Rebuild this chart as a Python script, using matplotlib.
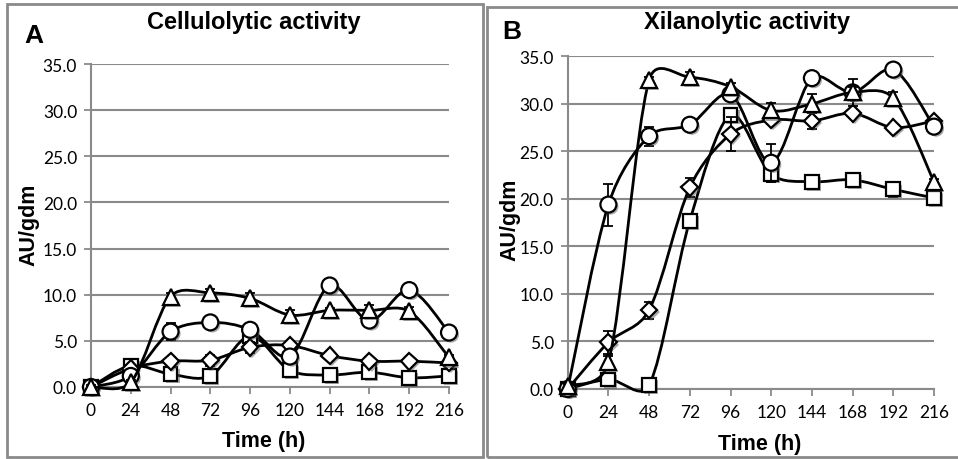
import numpy as np
import matplotlib
matplotlib.use("Agg")
import matplotlib.pyplot as plt
from matplotlib.path import Path
from matplotlib.patches import PathPatch, Rectangle
import matplotlib.patheffects as pe

# ---------------- data ----------------
time_h = [0, 24, 48, 72, 96, 120, 144, 168, 192, 216]
y_ticks = [0, 5, 10, 15, 20, 25, 30, 35]

# Panel A: cellulolytic activity (AU/gdm)
cel_triangle = [0.0, 0.5, 9.8, 10.2, 9.6, 7.8, 8.3, 8.3, 8.2, 3.2]
cel_triangle_err = [0.2, 0.3, 0.4, 0.4, 0.6, 0.5, 0.3, 0.6, 0.5, 0.3]
cel_circle = [0.0, 1.2, 6.0, 7.0, 6.2, 3.3, 11.0, 7.2, 10.5, 5.9]
cel_circle_err = [0.2, 0.3, 0.9, 0.6, 0.5, 0.4, 0.3, 0.4, 0.6, 0.6]
cel_diamond = [0.0, 2.0, 2.8, 2.9, 4.3, 4.5, 3.4, 2.8, 2.8, 2.6]
cel_diamond_err = [0.2, 0.3, 0.4, 0.6, 0.6, 0.5, 0.2, 0.3, 0.3, 0.3]
cel_square = [0.0, 2.3, 1.4, 1.2, 5.5, 1.8, 1.3, 1.6, 1.0, 1.2]
cel_square_err = [0.2, 0.4, 0.4, 0.5, 0.5, 0.4, 0.2, 0.4, 0.4, 0.3]

# Panel B: xylanolytic activity (AU/gdm)
xil_triangle = [0.3, 2.8, 32.5, 32.8, 31.8, 29.3, 30.0, 31.2, 30.6, 21.8]
xil_triangle_err = [0.2, 0.7, 0.3, 0.6, 0.4, 0.8, 1.0, 0.6, 0.6, 0.3]
xil_circle = [0.0, 19.4, 26.6, 27.8, 31.0, 23.8, 32.7, 31.2, 33.6, 27.6]
xil_circle_err = [0.2, 2.2, 1.0, 0.3, 0.5, 2.0, 0.2, 1.4, 0.3, 0.3]
xil_diamond = [0.0, 4.9, 8.3, 21.2, 26.8, 28.3, 28.2, 29.0, 27.5, 28.2]
xil_diamond_err = [0.2, 1.2, 0.9, 1.0, 1.8, 0.4, 0.8, 0.4, 0.3, 0.3]
xil_square = [0.0, 1.0, 0.4, 17.7, 28.8, 22.6, 21.8, 22.0, 21.0, 20.1]
xil_square_err = [0.2, 0.3, 0.2, 0.3, 0.5, 0.8, 0.3, 0.2, 0.8, 0.3]

# ---------------- style ----------------
W, H = 958, 460
fig = plt.figure(figsize=(W / 100, H / 100), dpi=100)
GRID = "#8a8a8a"
TICKFONT = "Lato"
BOLDFONT = "Liberation Sans"


def smooth_path(ax, x, y):
    """Excel-like smoothed line: cubic Bezier through the points, tangent
    lengths scaled by neighbouring segment lengths measured on screen."""
    pts = np.column_stack([np.asarray(x, float), np.asarray(y, float)])
    disp = ax.transData.transform(pts)
    n = len(pts)
    f = 1.0 / 6.0
    seg = np.hypot(*np.diff(disp, axis=0).T)
    verts = [tuple(disp[0])]
    codes = [Path.MOVETO]

    def tangent(i):
        a = disp[max(i - 1, 0)]
        b = disp[min(i + 1, n - 1)]
        return b - a

    def scale(i, side):
        dl = seg[i - 1] if i > 0 else seg[i]
        dr = seg[i] if i < n - 1 else seg[i - 1]
        d = dr if side == "r" else dl
        return min(1.0, np.sqrt(2 * d / (dl + dr)))

    for i in range(n - 1):
        c1 = disp[i] + tangent(i) * f * scale(i, "r")
        c2 = disp[i + 1] - tangent(i + 1) * f * scale(i + 1, "l")
        verts += [tuple(c1), tuple(c2), tuple(disp[i + 1])]
        codes += [Path.CURVE4] * 3
    data_verts = ax.transData.inverted().transform(np.array(verts))
    return Path(data_verts, codes)


def make_panel(rect, series, letter, title, letter_xy, title_xy, ylab_xy, xlab_xy):
    ax = fig.add_axes(rect)
    ax.set_xlim(time_h[0], time_h[-1])
    ax.set_ylim(0, 35)
    ax.set_xticks(time_h)
    ax.set_xticklabels([str(t) for t in time_h])
    ax.set_yticks(y_ticks)
    ax.set_yticklabels([f"{v:.1f}" for v in y_ticks])
    ax.yaxis.grid(True, color=GRID, lw=1.5, zorder=0)
    ax.set_axisbelow(True)
    for s in ["top", "right"]:
        ax.spines[s].set_visible(False)
    for s in ["left", "bottom"]:
        ax.spines[s].set_color(GRID)
        ax.spines[s].set_linewidth(1.5)
    ax.tick_params(axis="both", direction="out", length=5, width=1.3, color=GRID,
                   labelsize=12.5, labelcolor="#000000")
    ax.tick_params(axis="x", pad=6)
    ax.tick_params(axis="y", pad=5)
    for lab in ax.get_xticklabels() + ax.get_yticklabels():
        lab.set_fontfamily(TICKFONT)
    shadow = [pe.SimplePatchShadow(offset=(1.5, -1.5), shadow_rgbFace="#555555", alpha=0.5), pe.Normal()]
    z = 3
    for vals, errs, mk, ms in series:
        patch = PathPatch(smooth_path(ax, time_h, vals), facecolor="none", edgecolor="black",
                          lw=2.0, zorder=z, clip_on=False)
        ax.add_patch(patch)
        ax.errorbar(time_h, vals, yerr=errs, fmt="none", ecolor="black", elinewidth=1.3,
                    capsize=3.5, capthick=1.3, zorder=z + 0.5, clip_on=False)
        ax.plot(time_h, vals, linestyle="none", marker=mk, markersize=ms,
                markerfacecolor="white", markeredgecolor="black", markeredgewidth=1.6,
                zorder=z + 1, clip_on=False, path_effects=shadow)
        z += 2
    fig.text(letter_xy[0] / W, 1 - letter_xy[1] / H, letter, fontsize=19, fontweight="bold",
             family=BOLDFONT, ha="center", va="center")
    fig.text(title_xy[0] / W, 1 - title_xy[1] / H, title, fontsize=17, fontweight="bold",
             family=BOLDFONT, ha="center", va="center")
    fig.text(ylab_xy[0] / W, 1 - ylab_xy[1] / H, "AU/gdm", fontsize=15.5, fontweight="bold",
             family=BOLDFONT, ha="center", va="center", rotation=90)
    fig.text(xlab_xy[0] / W, 1 - xlab_xy[1] / H, "Time (h)", fontsize=15.5, fontweight="bold",
             family=BOLDFONT, ha="center", va="center")
    return ax


# panel frames
fig.patches.append(Rectangle((7 / W, 1 - 458 / H), (483 - 7) / W, (458 - 5) / H,
                             transform=fig.transFigure, fill=False, edgecolor="#8a8a8a", lw=2))
fig.patches.append(Rectangle((487 / W, 1 - 458 / H), (970 - 487) / W, (458 - 8) / H,
                             transform=fig.transFigure, fill=False, edgecolor="#8a8a8a", lw=2))

series_A = [
    (cel_square, cel_square_err, "s", 10),
    (cel_diamond, cel_diamond_err, "D", 8.5),
    (cel_circle, cel_circle_err, "o", 11.5),
    (cel_triangle, cel_triangle_err, "^", 11.5),
]
series_B = [
    (xil_square, xil_square_err, "s", 10),
    (xil_diamond, xil_diamond_err, "D", 8.5),
    (xil_circle, xil_circle_err, "o", 11.5),
    (xil_triangle, xil_triangle_err, "^", 11.5),
]

make_panel([91 / W, 1 - 388 / H, (449 - 91) / W, (388 - 65) / H], series_A, "A",
           "Cellulolytic activity", (34, 36), (254, 23), (29, 225), (264, 442))
make_panel([567.7 / W, 1 - 390 / H, (934 - 567.7) / W, (390 - 57.3) / H], series_B, "B",
           "Xilanolytic activity", (512, 32), (747, 23), (510, 220), (760, 445))

fig.savefig("out.png", dpi=100)
